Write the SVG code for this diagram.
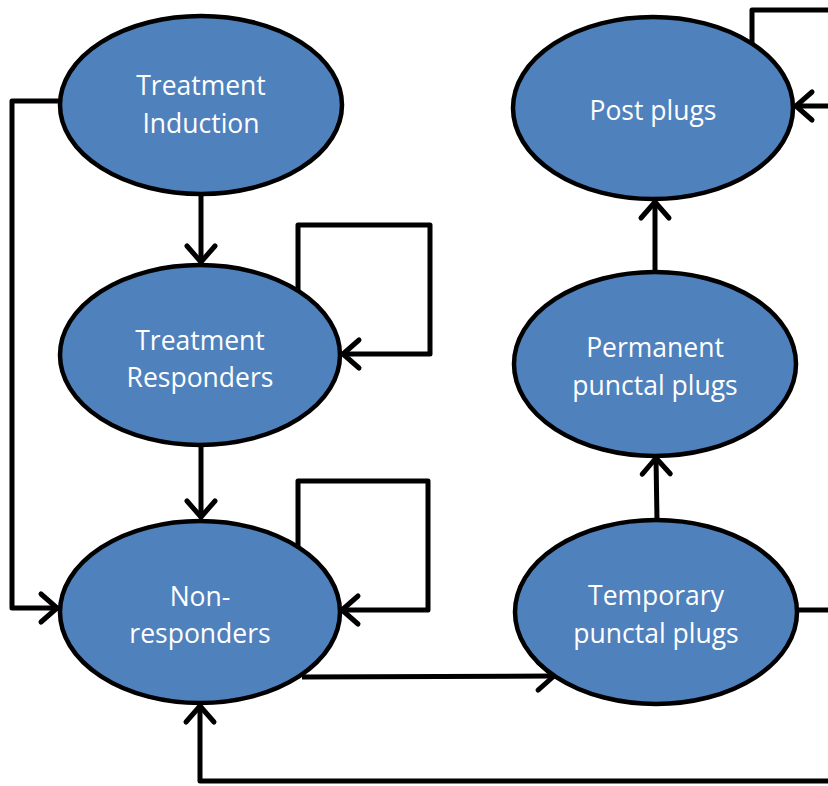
<svg xmlns="http://www.w3.org/2000/svg" width="828" height="786" viewBox="0 0 828 786">
<style>
.node ellipse{fill:#4F81BD;stroke:#000;stroke-width:4.5}
.node text{fill:#fff;font-family:"Open Sans","Liberation Sans",Arial,sans-serif;font-size:26.5px;text-anchor:middle}
.conn path{fill:none;stroke:#000;stroke-width:5;stroke-linejoin:round}
.arr{marker-end:url(#ah)}
</style>
<defs>
<marker id="ah" markerUnits="userSpaceOnUse" markerWidth="40" markerHeight="40" viewBox="-20 -20 40 40" refX="0" refY="0" orient="auto">
<path d="M-16,-14 L0,0 L-16,14" fill="none" stroke="#000" stroke-width="5" stroke-linecap="round" stroke-linejoin="round"/>
</marker>
</defs>
<rect width="828" height="786" fill="#fff"/>
<g class="conn">
<path class="arr" d="M201,196 L201,262"/>
<path class="arr" d="M201,447 L201,517"/>
<path class="arr" d="M60,101 L12,101 L12,608 L57,608"/>
<path class="arr" d="M298,293 L298,225 L430,225 L430,354 L343,354"/>
<path class="arr" d="M298,548 L298,481 L428,481 L428,610 L342,610"/>
<path class="arr" d="M302,677 L554,676"/>
<path class="arr" d="M657,520 L656,458"/>
<path class="arr" d="M655,272 L655,202"/>
<path d="M752,45 L752,10 L830,10"/>
<path class="arr" d="M830,106 L796,106"/>
<path d="M798,610 L830,610"/>
<path class="arr" d="M830,781 L200,781 L200,706"/>
</g>
<g id="treatment-induction" class="node">
<ellipse cx="201" cy="105" rx="141" ry="89"/>
<text x="201" y="95">Treatment</text>
<text x="201" y="133">Induction</text>
</g>
<g id="treatment-responders" class="node">
<ellipse cx="200" cy="355" rx="140" ry="90"/>
<text x="200" y="350">Treatment</text>
<text x="200" y="387">Responders</text>
</g>
<g id="non-responders" class="node">
<ellipse cx="200" cy="612" rx="140" ry="91"/>
<text x="200" y="606">Non-</text>
<text x="200" y="643">responders</text>
</g>
<g id="post-plugs" class="node">
<ellipse cx="653" cy="108" rx="140" ry="91"/>
<text x="653" y="120">Post plugs</text>
</g>
<g id="permanent-punctal-plugs" class="node">
<ellipse cx="655" cy="364" rx="141" ry="92"/>
<text x="655" y="357">Permanent</text>
<text x="655" y="395">punctal plugs</text>
</g>
<g id="temporary-punctal-plugs" class="node">
<ellipse cx="656" cy="612" rx="141" ry="92"/>
<text x="656" y="605">Temporary</text>
<text x="656" y="643">punctal plugs</text>
</g>
</svg>
